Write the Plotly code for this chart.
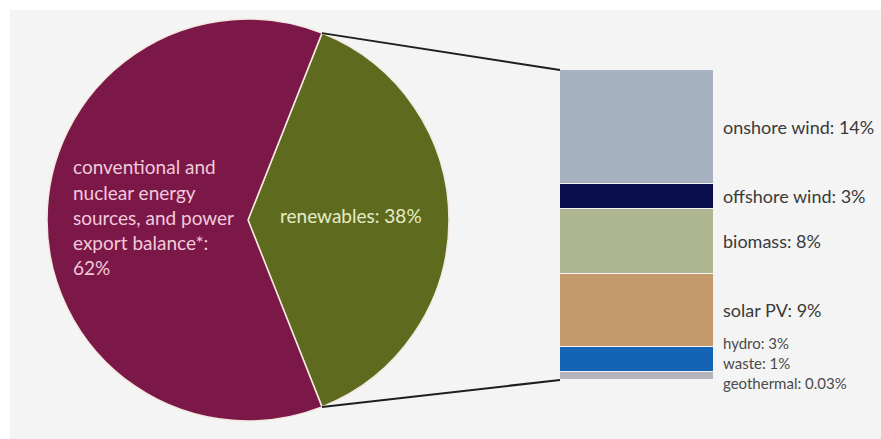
import math
import plotly.graph_objects as go

# ---------------- data ----------------
pie_labels = ["renewables", "conventional and nuclear energy sources, and power export balance*"]
pie_values = [38, 62]
pie_colors = ["#5e6b1e", "#7b1848"]

bar_labels = ["geothermal", "waste", "hydro", "solar PV", "biomass", "offshore wind", "onshore wind"]
bar_values = [0.03, 1, 3, 9, 8, 3, 14]
bar_pct_text = ["0.03%", "1%", "3%", "9%", "8%", "3%", "14%"]
bar_colors = ["#c9b6cc", "#b3b3bb", "#1463b4", "#c49a6c", "#afb692", "#0a0e4c", "#a7b2c0"]

conv_lines = ["conventional and", "nuclear energy", "sources, and power", "export balance*:", "62%"]

# ---------------- geometry ----------------
W, H = 881, 439
def px(x):
    return x / W
def py(y):
    return 1 - y / H

cx, cy, r = 248, 220, 201          # pie centre / radius (pixels)
bar_l, bar_r, bar_t, bar_b = 560, 714, 70, 380  # bar box (pixels)

ren_share = pie_values[0] / sum(pie_values)
half_angle = math.pi * ren_share   # renewables slice centred on 3 o'clock
rotation = 90 - math.degrees(half_angle)

fig = go.Figure()

fig.add_trace(go.Pie(
    labels=pie_labels, values=pie_values, sort=False, direction="clockwise",
    rotation=rotation, marker=dict(colors=pie_colors, line=dict(color="#f3e9e0", width=1.5)),
    textinfo="none", hoverinfo="label+percent",
    domain=dict(x=[px(cx - r), px(cx + r)], y=[py(cy + r), py(cy - r)]),
    showlegend=False,
))

total = sum(bar_values)
for lab, val, col in zip(bar_labels, bar_values, bar_colors):
    fig.add_trace(go.Bar(
        x=[0], y=[val], name=lab, marker=dict(color=col, line=dict(color="#f4f4f4", width=1.5)),
        width=1, showlegend=False, hoverinfo="name+y",
    ))

shapes = [
    dict(type="rect", xref="paper", yref="paper", x0=px(10), x1=1, y0=0, y1=py(10),
         fillcolor="#f4f4f4", line=dict(width=0), layer="below"),
]
# connectors from the renewables slice edges to the bar corners
top_pt = (cx + r * math.cos(half_angle), cy - r * math.sin(half_angle))
bot_pt = (cx + r * math.cos(half_angle), cy + r * math.sin(half_angle))
for (x0, y0), y1 in [(top_pt, bar_t), (bot_pt, bar_b)]:
    shapes.append(dict(type="line", xref="paper", yref="paper",
                       x0=px(x0), y0=py(y0), x1=px(bar_l), y1=py(y1),
                       line=dict(color="#1e1e1e", width=2)))

annotations = []
# pie texts
for i, line in enumerate(conv_lines):
    annotations.append(dict(xref="paper", yref="paper", x=px(71), y=py(167 + 25 * i),
                            text=line, showarrow=False, xanchor="left", yanchor="middle",
                            font=dict(family="Lato", size=19, color="#f2c9dc")))
annotations.append(dict(xref="paper", yref="paper", x=px(351), y=py(216),
                        text=f"{pie_labels[0]}: {pie_values[0]}%", showarrow=False,
                        xanchor="center", yanchor="middle",
                        font=dict(family="Lato", size=19, color="#e6ebc8")))

# bar labels: large segments at segment mid-points, small ones stacked below
cum = 0
mids = []
for v in bar_values:
    mids.append(cum + v / 2)
    cum += v
for i, (lab, pct) in enumerate(zip(bar_labels, bar_pct_text)):
    if bar_values[i] >= 3 and lab != "hydro":
        annotations.append(dict(xref="paper", yref="y", x=px(722), y=mids[i],
                                text=f"{lab}: {pct}", showarrow=False, xanchor="left",
                                yanchor="middle", borderpad=0,
                                font=dict(family="Lato", size=18, color="#3a3a3a")))
small_y = {"hydro": 343, "waste": 363, "geothermal": 383}
for i, lab in enumerate(bar_labels):
    if lab in small_y:
        annotations.append(dict(xref="paper", yref="paper", x=px(722), y=py(small_y[lab]),
                                text=f"{lab}: {bar_pct_text[i]}", showarrow=False,
                                xanchor="left", yanchor="middle", borderpad=0,
                                font=dict(family="Lato", size=15, color="#4a4a4a")))

fig.update_layout(
    width=W, height=H, margin=dict(l=0, r=0, t=0, b=0),
    paper_bgcolor="white", plot_bgcolor="rgba(0,0,0,0)",
    barmode="stack", bargap=0,
    xaxis=dict(domain=[px(bar_l), px(bar_r)], range=[-0.5, 0.5], visible=False, fixedrange=True),
    yaxis=dict(domain=[py(bar_b), py(bar_t)], range=[0, total], visible=False, fixedrange=True),
    shapes=shapes, annotations=annotations, showlegend=False,
)

fig.write_html("out.html")
